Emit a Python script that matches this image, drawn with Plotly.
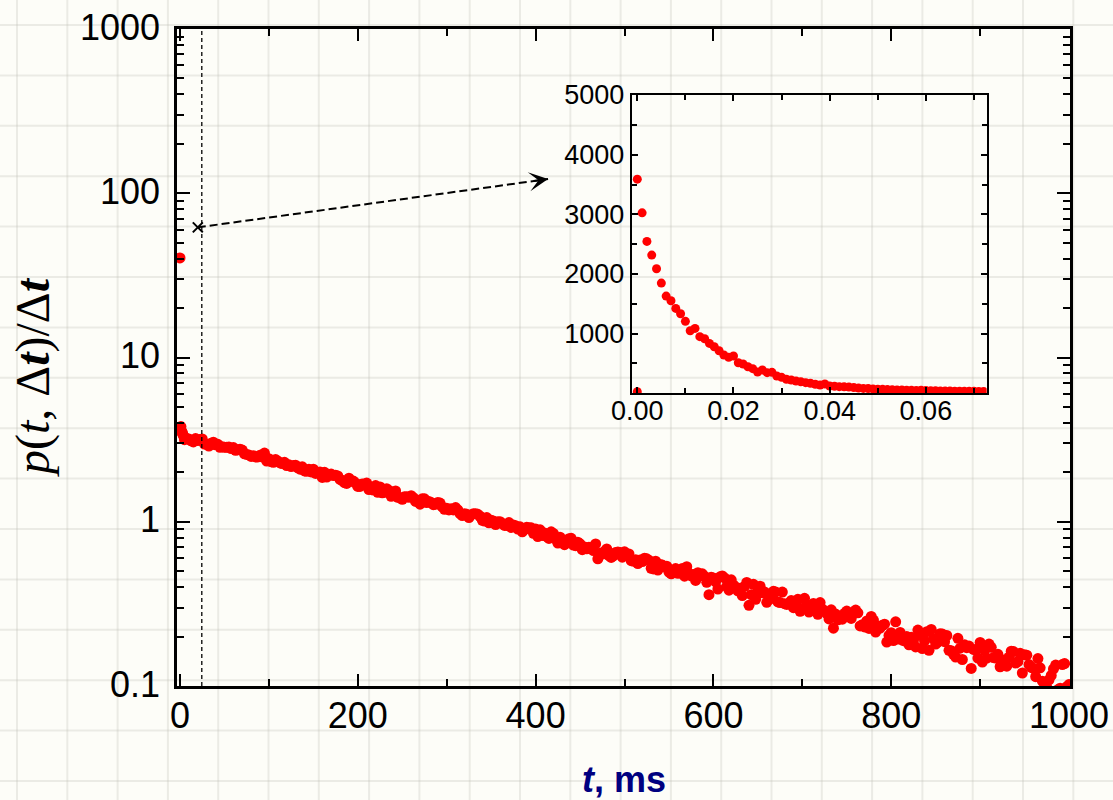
import math
import plotly.graph_objects as go

# ---------------- data ----------------
# samples on the 5 ms grid (plus the first few ms)
main_t = [0, 1, 2, 3, 4] + list(range(5, 1001, 5))
main_y = [
    40.4, 3.80, 3.55, 3.42, 3.33,
    3.16, 3.19, 3.06, 3.12, 3.19,
    2.96, 3.01, 2.94, 2.84, 2.84, 2.85, 2.83, 2.74, 2.73, 2.57, 2.50, 2.48, 2.54, 2.62,
    2.42, 2.30, 2.34, 2.26, 2.20, 2.17, 2.21, 2.09, 2.04, 2.09, 2.09, 1.99, 1.86, 1.87, 1.95, 1.92, 1.81, 1.73, 1.84, 1.77,
    1.64, 1.70, 1.72, 1.59, 1.66, 1.63, 1.51, 1.55, 1.49, 1.41, 1.37, 1.42, 1.44, 1.33, 1.28, 1.38, 1.33, 1.27, 1.31, 1.23,
    1.21, 1.20, 1.22, 1.12, 1.12, 1.06, 1.12, 1.11, 1.02, 1.06, 1.02, 0.961, 1.00, 0.949, 0.989, 0.954, 0.902, 0.868, 0.925, 0.919,
    0.903, 0.893, 0.853, 0.791, 0.849, 0.742, 0.765, 0.763, 0.793, 0.715, 0.734, 0.702, 0.700, 0.668, 0.595, 0.636, 0.683, 0.606, 0.650, 0.650,
    0.656, 0.637, 0.575, 0.556, 0.572, 0.595, 0.521, 0.575, 0.549, 0.533, 0.493, 0.501, 0.485, 0.520, 0.533, 0.468, 0.439, 0.472, 0.465, 0.360,
    0.455, 0.389, 0.468, 0.404, 0.443, 0.400, 0.393, 0.404, 0.310, 0.416, 0.375, 0.369, 0.323, 0.357, 0.374, 0.322, 0.317, 0.319, 0.300, 0.337,
    0.296, 0.311, 0.293, 0.301, 0.322, 0.285, 0.256, 0.225, 0.253, 0.255, 0.286, 0.258, 0.290, 0.232, 0.229, 0.224, 0.252, 0.232, 0.234, 0.185,
    0.211, 0.246, 0.212, 0.188, 0.178, 0.189, 0.219, 0.169, 0.214, 0.221, 0.180, 0.208, 0.186, 0.165, 0.156, 0.195, 0.145, 0.171, 0.128, 0.166,
    0.184, 0.165, 0.180, 0.149, 0.156, 0.135, 0.132, 0.163, 0.138, 0.158, 0.155, 0.135, 0.128, 0.147, 0.107, 0.098, 0.116, 0.134, 0.097, 0.137, 0.102,
]
# samples in between (2.5 ms offset)
mid_t = [2.5 + 5 * j for j in range(200)]
mid_y = [
    3.48, 3.21, 3.11, 3.21, 3.17,
    2.97, 2.89, 3.05, 2.96, 2.86, 2.84, 2.79, 2.72, 2.76, 2.59, 2.55, 2.52, 2.48, 2.48, 2.34,
    2.32, 2.39, 2.28, 2.30, 2.22, 2.20, 2.13, 2.16, 2.03, 2.01, 1.97, 2.01, 2.00, 1.93, 1.91, 1.90, 1.78, 1.71, 1.77, 1.72,
    1.64, 1.70, 1.57, 1.56, 1.51, 1.50, 1.59, 1.43, 1.54, 1.40, 1.42, 1.41, 1.40, 1.35, 1.38, 1.31, 1.31, 1.28, 1.30, 1.19,
    1.18, 1.18, 1.18, 1.09, 1.11, 1.10, 1.12, 1.08, 1.01, 0.986, 1.01, 1.00, 0.976, 0.950, 0.924, 0.947, 0.931, 0.897, 0.918, 0.850,
    0.813, 0.825, 0.811, 0.868, 0.784, 0.805, 0.725, 0.789, 0.722, 0.751, 0.676, 0.685, 0.694, 0.733, 0.642, 0.660, 0.621, 0.620, 0.655, 0.609,
    0.633, 0.579, 0.587, 0.585, 0.600, 0.582, 0.516, 0.508, 0.545, 0.536, 0.482, 0.519, 0.489, 0.466, 0.485, 0.477, 0.490, 0.482, 0.428, 0.459,
    0.431, 0.462, 0.455, 0.383, 0.412, 0.379, 0.355, 0.427, 0.360, 0.337, 0.405, 0.374, 0.336, 0.377, 0.325, 0.373, 0.314, 0.331, 0.318, 0.285,
    0.342, 0.282, 0.318, 0.273, 0.294, 0.277, 0.291, 0.274, 0.263, 0.277, 0.278, 0.279, 0.279, 0.236, 0.249, 0.265, 0.213, 0.225, 0.238, 0.203,
    0.189, 0.193, 0.190, 0.200, 0.198, 0.173, 0.204, 0.188, 0.165, 0.194, 0.185, 0.207, 0.203, 0.164, 0.150, 0.170, 0.178, 0.175, 0.167, 0.148,
    0.140, 0.148, 0.172, 0.148, 0.131, 0.144, 0.150, 0.162, 0.141, 0.120, 0.154, 0.130, 0.114, 0.129, 0.098, 0.109, 0.127, 0.095, 0.135, 0.099,
]

inset_t = [0.0, 0.0, 0.001, 0.002, 0.003, 0.004, 0.005, 0.006, 0.007, 0.008, 0.009,
           0.010, 0.011, 0.012, 0.013, 0.014, 0.015, 0.016, 0.017, 0.018, 0.019,
           0.020, 0.021, 0.022, 0.023, 0.024, 0.025, 0.026, 0.027, 0.028, 0.029,
           0.030, 0.031, 0.032, 0.033, 0.034, 0.035, 0.036, 0.037, 0.038, 0.039,
           0.040, 0.041, 0.042, 0.043, 0.044, 0.045, 0.046, 0.047, 0.048, 0.049,
           0.050, 0.051, 0.052, 0.053, 0.054, 0.055, 0.056, 0.057, 0.058, 0.059,
           0.060, 0.061, 0.062, 0.063, 0.064, 0.065, 0.066, 0.067, 0.068, 0.069,
           0.070, 0.071, 0.072]
inset_y = [27, 3590, 3025, 2546, 2317, 2088, 1847, 1630, 1552, 1423, 1334,
           1206, 1049, 1088, 949, 915, 837, 781, 714, 642, 603,
           625, 513, 491, 446, 413, 357, 390, 346, 352, 290,
           268, 235, 223, 206, 194, 178, 168, 151, 139, 156,
           122, 118, 112, 110, 104, 98, 88, 82, 80, 74,
           70, 66, 62, 60, 57, 56, 52, 50, 48, 52,
           45, 43, 42, 40, 38, 40, 36, 35, 34, 33,
           35, 30, 30]

y_major = [0.1, 1, 10, 100, 1000]
y_major_text = ["0.1", "1", "10", "100", "1000"]
y_minor = [0.2, 0.3, 0.4, 0.5, 0.6, 0.7, 0.8, 0.9,
           2, 3, 4, 5, 6, 7, 8, 9,
           20, 30, 40, 50, 60, 70, 80, 90,
           200, 300, 400, 500, 600, 700, 800, 900]
x_major = [0, 200, 400, 600, 800, 1000]
x_minor = [100, 300, 500, 700, 900]

inset_x_major = [0.0, 0.02, 0.04, 0.06]
inset_x_major_text = ["0.00", "0.02", "0.04", "0.06"]
inset_x_minor = [0.01, 0.03, 0.05, 0.07]
inset_y_major = [1000, 2000, 3000, 4000, 5000]
inset_y_minor = [500, 1500, 2500, 3500, 4500]

cutoff_t = 24.5          # dashed vertical line
marker_pt = (20, 62)     # "x" marker
arrow_end = (414, 122)   # arrow head

# ---------------- geometry ----------------
W, H = 1113, 800
ML, MR, MT, MB = 177, 43, 29, 114
PW, PH = W - ML - MR, H - MT - MB

def px_to_paper_x(px):
    return (px - ML) / PW

def px_to_paper_y(py):
    return (H - MB - py) / PH

BG = "#FDFDF8"
GRID = "rgba(190,190,180,0.28)"

fig = go.Figure()

fig.add_trace(go.Scatter(
    x=main_t + mid_t, y=main_y + mid_y, mode="markers",
    marker=dict(color="#FF0000", size=11, line=dict(width=0)),
    xaxis="x", yaxis="y", showlegend=False, hoverinfo="skip"))

fig.add_trace(go.Scatter(
    x=[marker_pt[0], arrow_end[0]], y=[marker_pt[1], arrow_end[1]], mode="lines",
    line=dict(color="black", width=2, dash="8px,4px"),
    xaxis="x", yaxis="y", showlegend=False, hoverinfo="skip", cliponaxis=False))

fig.add_trace(go.Scatter(
    x=[marker_pt[0]], y=[marker_pt[1]], mode="markers",
    marker=dict(symbol="x-thin", size=10, line=dict(width=2, color="black")),
    xaxis="x", yaxis="y", showlegend=False, hoverinfo="skip"))

fig.add_trace(go.Scatter(
    x=inset_t, y=inset_y, mode="markers",
    marker=dict(color="#FF0000", size=9, line=dict(width=0)),
    xaxis="x2", yaxis="y2", showlegend=False, hoverinfo="skip"))

shapes = []
# background graph-paper grid
k = 0
while 17 + 50.3 * k < W:
    xp = px_to_paper_x(17 + 50.3 * k)
    shapes.append(dict(type="line", xref="paper", yref="paper", x0=xp, x1=xp,
                       y0=px_to_paper_y(H), y1=px_to_paper_y(0),
                       line=dict(color=GRID, width=2), layer="below"))
    k += 1
k = 0
while 25 + 50.4 * k < H:
    yp = px_to_paper_y(25 + 50.4 * k)
    shapes.append(dict(type="line", xref="paper", yref="paper", y0=yp, y1=yp,
                       x0=px_to_paper_x(0), x1=px_to_paper_x(W),
                       line=dict(color=GRID, width=2), layer="below"))
    k += 1
# dashed vertical line
shapes.append(dict(type="line", xref="x", yref="paper", x0=cutoff_t, x1=cutoff_t,
                   y0=0, y1=1, line=dict(color="black", width=1.3, dash="4px,3px")))

axis_font = dict(family="Arial, Liberation Sans, sans-serif", size=36, color="black")
inset_font = dict(family="Arial, Liberation Sans, sans-serif", size=27, color="black")

fig.update_layout(
    width=W, height=H, autosize=False,
    margin=dict(l=ML, r=MR, t=MT, b=MB, pad=0, autoexpand=False),
    paper_bgcolor=BG, plot_bgcolor="rgba(0,0,0,0)",
    showlegend=False,
    shapes=shapes,
    xaxis=dict(
        domain=[0, 1], range=[-3.4, 1001.1], anchor="y", automargin=False,
        tickmode="array", tickvals=x_major, ticktext=[str(v) for v in x_major],
        ticks="inside", ticklen=12, tickwidth=2, tickcolor="black",
        minor=dict(tickmode="array", tickvals=x_minor, ticks="inside", ticklen=7,
                   tickwidth=2, tickcolor="black", showgrid=False),
        showline=True, linewidth=2.5, linecolor="black", mirror="allticks",
        showgrid=False, zeroline=False, tickfont=axis_font, ticklabelstandoff=-4),
    yaxis=dict(
        domain=[0, 1], type="log", range=[-1, 3], anchor="x", automargin=False,
        tickmode="array", tickvals=y_major, ticktext=y_major_text,
        ticks="inside", ticklen=13, tickwidth=2, tickcolor="black",
        minor=dict(tickmode="array", tickvals=y_minor, ticks="inside", ticklen=7,
                   tickwidth=2, tickcolor="black", showgrid=False),
        showline=True, linewidth=2.5, linecolor="black", mirror="allticks",
        showgrid=False, zeroline=False, tickfont=axis_font, ticklabelstandoff=7,
        ticklabelshift=-2),
    xaxis2=dict(
        domain=[0.5092, 0.9067], range=[-0.00116, 0.07264], anchor="y2", automargin=False,
        tickmode="array", tickvals=inset_x_major, ticktext=inset_x_major_text,
        ticks="inside", ticklen=6, tickwidth=2, tickcolor="black",
        minor=dict(tickmode="array", tickvals=inset_x_minor, ticks="inside", ticklen=5,
                   tickwidth=2, tickcolor="black", showgrid=False),
        showline=True, linewidth=2, linecolor="black", mirror="allticks",
        showgrid=False, zeroline=False, tickfont=inset_font, ticklabelstandoff=-8),
    yaxis2=dict(
        domain=[0.4455, 0.8995], range=[0, 5000], anchor="x2", automargin=False,
        tickmode="array", tickvals=inset_y_major, ticktext=[str(v) for v in inset_y_major],
        ticks="inside", ticklen=6, tickwidth=2, tickcolor="black",
        minor=dict(tickmode="array", tickvals=inset_y_minor, ticks="inside", ticklen=5,
                   tickwidth=2, tickcolor="black", showgrid=False),
        showline=True, linewidth=2, linecolor="black", mirror="allticks",
        showgrid=False, zeroline=False, tickfont=inset_font, ticklabelstandoff=0),
    annotations=[
        dict(text="", x=arrow_end[0], y=math.log10(arrow_end[1]), xref="x", yref="y",
             showarrow=True, arrowhead=3, arrowsize=1.6, arrowwidth=2, arrowcolor="black",
             ax=-16, ay=2.2, axref="pixel", ayref="pixel", standoff=0),
        dict(text="<b><i>t</i>, ms</b>", xref="paper", yref="paper",
             x=px_to_paper_x(623.5), y=px_to_paper_y(779),
             xanchor="center", yanchor="middle", showarrow=False,
             font=dict(family="Arial, Liberation Sans, sans-serif", size=36, color="#000080")),
        dict(text="<i>p</i>(<i>t</i>, Δ<b><i>t</i></b>)/Δ<b><i>t</i></b>",
             xref="paper", yref="paper", x=px_to_paper_x(33), y=px_to_paper_y(377),
             xanchor="center", yanchor="middle", textangle=-90, showarrow=False,
             font=dict(family="Liberation Serif, Times New Roman, serif", size=48, color="black")),
    ],
)

fig.write_html("out.html")
